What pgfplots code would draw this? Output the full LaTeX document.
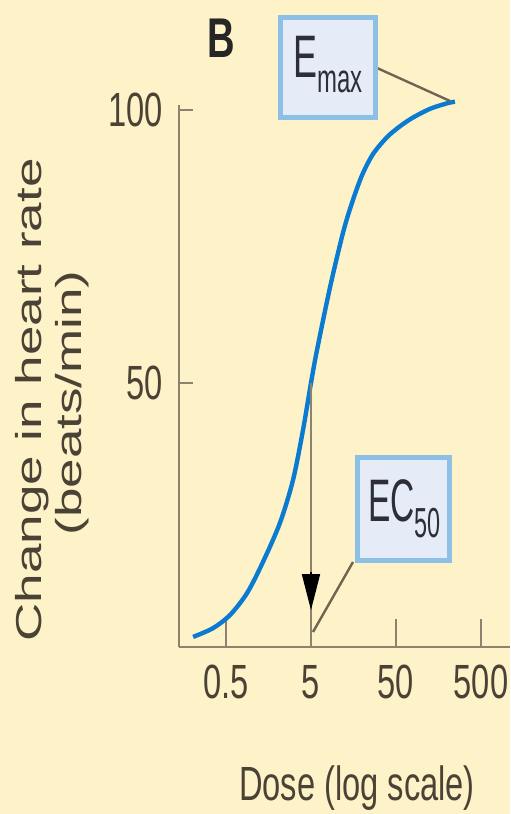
\documentclass[border=0pt]{standalone}
\usepackage{pgfplots}
\pgfplotsset{compat=1.18}
\usepackage{graphicx}
\usepackage{fontspec}
\setmainfont{Liberation Sans}[FakeStretch=0.68]
\newfontfamily\plainsans{Liberation Sans}
\usetikzlibrary{arrows.meta}
\definecolor{bg}{HTML}{FEF2C9}
\definecolor{axiscol}{HTML}{8C8270}
\definecolor{txt}{HTML}{4A4234}
\definecolor{curve}{HTML}{0A7BD0}
\definecolor{boxfill}{HTML}{E6EBF8}
\definecolor{boxline}{HTML}{8CC0E6}
\definecolor{leader}{HTML}{6E6552}
\definecolor{boxtxt}{HTML}{2E2E36}
\begin{document}
\begin{tikzpicture}[x=1pt,y=1pt]
\fill[bg] (0,0) rectangle (255,407);
\useasboundingbox (0,0) rectangle (255,407);
\begin{axis}[
  at={(89.5pt,83.5pt)}, anchor=south west,
  scale only axis, width=165.5pt, height=271pt,
  xmode=log, xmin=0.14, xmax=1097,
  ymin=1.65, ymax=100.9,
  clip=false,
  axis x line*=bottom, axis y line*=left,
  axis line style={axiscol, line width=1.2pt, -},
  xtick={0.5,5,50,500}, xticklabels={0.5,5,50,500},
  minor xtick={0.5,5,50,500},
  ytick={50,100},
  tick align=inside,
  major tick length=7pt, minor tick length=14pt,
  tick style={axiscol, line width=1pt},
  /pgf/number format/assume math mode=true,
  tick label style={font=\fontsize{24}{28}\selectfont, text=txt, inner sep=0pt},
  xticklabel style={anchor=north, yshift=-9pt},
  yticklabel style={anchor=east, xshift=-8pt},
]
\addplot[curve, line width=2.2pt, smooth] coordinates {
(0.205,3.5) (0.352,5.1) (0.557,7.5) (0.883,11.5) (1.36,17.2) (2.16,24.4)
(3.07,32.2) (4.03,41.4) (5.0,50.0) (5.88,56.0) (8.37,67.5) (11.9,77.5)
(15.2,83.0) (19.9,88.0) (26.8,91.9) (39.2,95.0) (55.7,97.0) (79.3,98.6)
(126,100.2) (199,101.2) (247,101.5)
};
\draw[axiscol, line width=1pt] (axis cs:5,50) -- (axis cs:5,1.65);
\draw[black, line width=0.8pt, -{Triangle[width=9pt,length=18pt]}] (axis cs:5,15.4) -- (axis cs:5,8.4);
\end{axis}
\draw[leader, line width=1.2pt] (188.5,373) -- (225,356.5);
\draw[leader, line width=1.2pt] (176.5,126) -- (156.5,91);
\node[font=\bfseries\fontsize{28}{30}\selectfont, text=black!85] at (110.5,388) {B};
\node[fill=boxfill, draw=boxline, line width=2.5pt, minimum width=47.5pt, minimum height=50pt, inner sep=0pt] at (164,373.25) {};
\node[anchor=base west, inner sep=0pt, text=boxtxt] at (146.5,368) {\scalebox{0.88}[1]{\fontsize{30}{32}\selectfont E\raisebox{-7.5pt}{\fontsize{20}{22}\selectfont max}}};
\node[fill=boxfill, draw=boxline, line width=2.5pt, minimum width=46pt, minimum height=51.5pt, inner sep=0pt] at (201.75,152.5) {};
\node[anchor=base west, inner sep=0pt, text=boxtxt] at (184,146) {\scalebox{0.82}[1]{\fontsize{30}{32}\selectfont EC\raisebox{-8pt}{\fontsize{21}{22}\selectfont 50}}};
\node[rotate=90, text=txt, inner sep=0pt] at (16,207) {\scalebox{1}[0.68]{\plainsans\fontsize{26.5}{28}\selectfont Change in heart rate}};
\node[rotate=90, text=txt, inner sep=0pt] at (36,205.5) {\scalebox{1}[0.68]{\plainsans\fontsize{26.5}{28}\selectfont (beats/min)}};
\node[text=txt, font=\fontsize{24}{28}\selectfont, inner sep=0pt] at (178.5,13) {Dose (log scale)};
\end{tikzpicture}
\end{document}
